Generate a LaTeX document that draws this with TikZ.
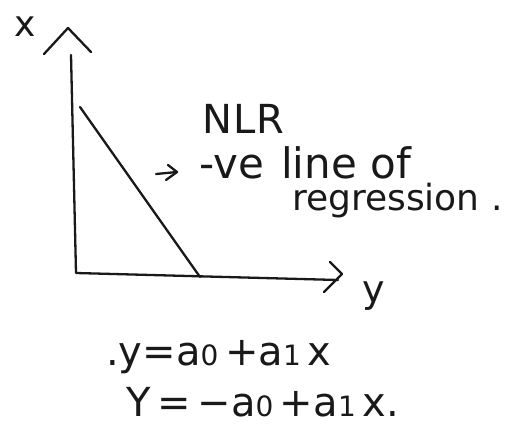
\documentclass[tikz,border=0pt]{standalone}
\usepackage{fontspec}
\setmainfont{DejaVu Sans}
\usetikzlibrary{arrows.meta}
\newcommand{\smalldig}[1]{{\fontsize{28}{30}\selectfont #1}}
\begin{document}
\begin{tikzpicture}[x=1pt,y=-1pt,
  ink/.style={line width=2.3pt, line cap=round, line join=round, draw=black!90},
  lbl/.style={inner sep=0pt, anchor=base west, text=black!90}]
\useasboundingbox[fill=white] (0,0) rectangle (526,433);
% axes
\coordinate (top) at (71,55);
\coordinate (origin) at (76,273);
\coordinate (yend) at (338,280);
\draw[ink] (top) -- (origin) -- (yend);
% open arrow heads
\draw[ink] (44,54) -- (68,28) -- (91,52);
\draw[ink] (330,262) -- (342,274) -- (324,292);
% regression line
\coordinate (rtop) at (80,107);
\coordinate (rbot) at (200,277);
\draw[ink] (rtop) -- (rbot);
% labels
\node[lbl, font=\fontsize{36}{40}\selectfont] (xlab) at (14,37) {x};
\node[lbl, font=\fontsize{38}{42}\selectfont] (ylab) at (362,302) {y};
\node[lbl, font=\fontsize{40}{44}\selectfont] (nlr) at (202,133) {N\kern1pt L\kern1pt R};
\node[lbl, font=\fontsize{42}{46}\selectfont] (neg) at (199,178) {-ve\hspace{4pt} line of};
\node[lbl, font=\fontsize{36}{40}\selectfont] (reg) at (292,210) {regression .};
% small pointer arrow
\coordinate (as) at (156,174);
\coordinate (ae) at (177,172);
\draw[ink] (as) -- (ae);
\draw[ink] (168,165) -- (177,172) -- (166,180);
% equations
\node[lbl, font=\fontsize{40}{44}\selectfont] (eq1) at (106,365) {.y=a\smalldig{0}\,+a\smalldig{1}\,x};
\node[lbl, font=\fontsize{40}{44}\selectfont] (eq2) at (126,416) {Y\,=\,−a\smalldig{0}\,+a\smalldig{1}\,x.};
\end{tikzpicture}
\end{document}
